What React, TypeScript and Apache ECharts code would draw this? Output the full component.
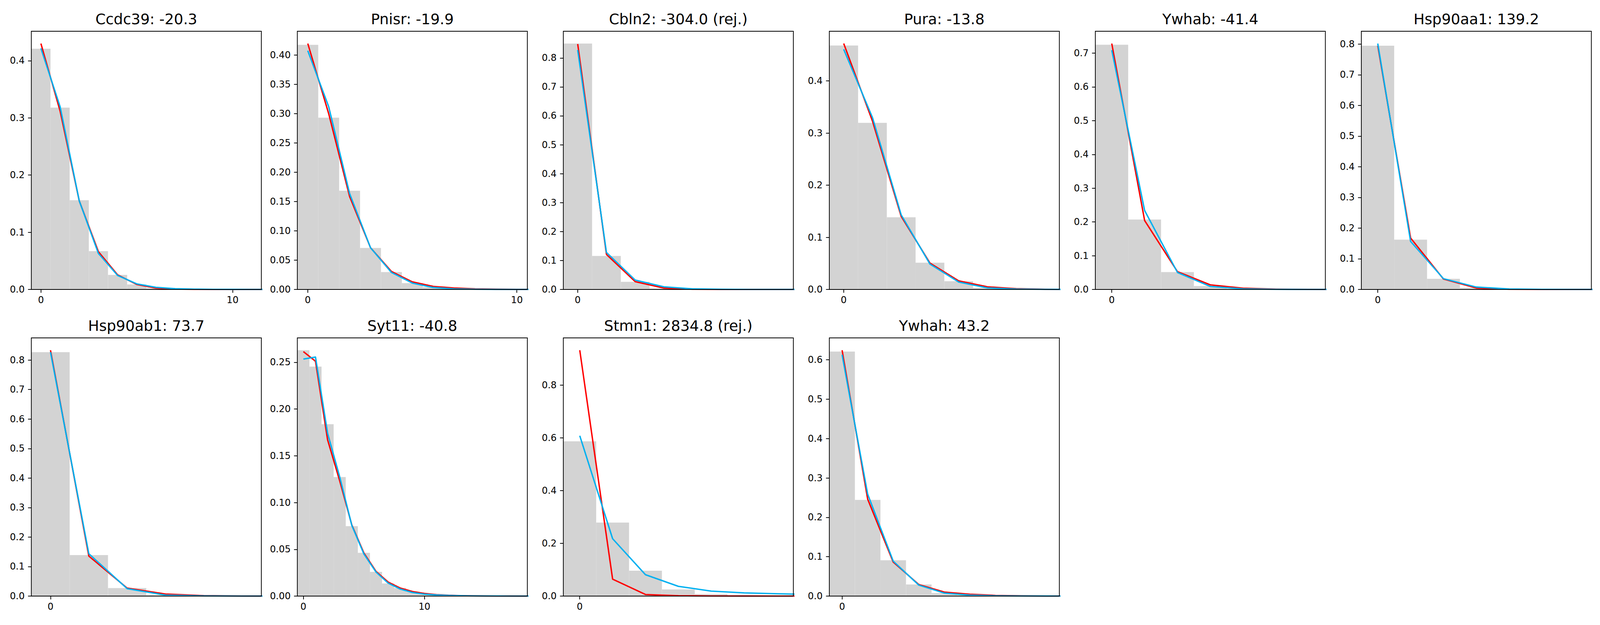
import React, { useEffect, useRef } from "react";
import * as echarts from "echarts";

// panel titles
const genes = ["Ccdc39", "Pnisr", "Cbln2", "Pura", "Ywhab", "Hsp90aa1", "Hsp90ab1", "Syt11", "Stmn1", "Ywhah"];
const scores = [-20.3, -19.9, -304.0, -13.8, -41.4, 139.2, 73.7, -40.8, 2834.8, 43.2];
const rejected = [false, false, true, false, false, false, false, false, true, false];

// observed frequency per count (bins centred on 0, 1, 2, ...)
const histHeights = [
  [0.421, 0.318, 0.156, 0.067, 0.0255, 0.0087, 0.002, 0.0006, 0.0002, 0.0001, 0, 0],
  [0.4177, 0.2933, 0.1685, 0.0709, 0.0297, 0.0109, 0.004, 0.001, 0.0003, 0.0001, 0],
  [0.8497, 0.1157, 0.0263, 0.0035, 0.0005, 0, 0, 0],
  [0.4679, 0.3195, 0.1384, 0.0514, 0.0157, 0.003, 0.0005, 0.0001],
  [0.7247, 0.2072, 0.0515, 0.01, 0.002, 0.0003, 0],
  [0.7947, 0.1623, 0.0346, 0.0052, 0.001, 0.0001, 0],
  [0.8266, 0.1389, 0.0271, 0.0034, 0.0004, 0],
  [0.2629, 0.2453, 0.1838, 0.1273, 0.0748, 0.0463, 0.0259, 0.0135, 0.0086, 0.0047, 0.0028, 0.0015, 0.0008, 0.0004, 0.0002, 0.0001, 0, 0, 0],
  [0.5868, 0.279, 0.0963, 0.025, 0.0076, 0.002, 0.0005],
  [0.6208, 0.2442, 0.0909, 0.0294, 0.0076, 0.0025, 0.001, 0.0003, 0.0001],
];

// red model
const redCurve = [
  [0.43, 0.312, 0.155, 0.066, 0.0255, 0.0087, 0.0024, 0.0007, 0.0002, 0.0001, 0, 0, 0],
  [0.4198, 0.3, 0.1586, 0.0713, 0.0307, 0.013, 0.0051, 0.0024, 0.001, 0.0004, 0.0002, 0.0001],
  [0.848, 0.121, 0.027, 0.0048, 0.0008, 0.0001, 0, 0, 0],
  [0.4717, 0.323, 0.14, 0.0506, 0.0165, 0.005, 0.0015, 0.0004, 0.0001],
  [0.7283, 0.2043, 0.0527, 0.0136, 0.0036, 0.0009, 0.0002, 0],
  [0.7947, 0.1675, 0.0339, 0.0046, 0.0006, 0.0001, 0, 0],
  [0.8333, 0.1355, 0.0271, 0.0068, 0.0015, 0.0003, 0.0001],
  [0.2614, 0.2511, 0.167, 0.1232, 0.0761, 0.0461, 0.0264, 0.015, 0.0086, 0.0049, 0.0028, 0.0016, 0.0009, 0.0005, 0.0003, 0.0002, 0.0001, 0.0001, 0, 0],
  [0.9325, 0.0644, 0.006, 0.0015, 0.0004, 0.0002, 0.0001, 0],
  [0.6244, 0.2462, 0.0863, 0.0294, 0.0102, 0.0046, 0.0018, 0.0007, 0.0003, 0.0001],
];

// blue model
const blueCurve = [
  [0.4216, 0.3197, 0.155, 0.063, 0.0245, 0.0098, 0.0038, 0.0014, 0.0005, 0.0002, 0.0001, 0, 0],
  [0.4075, 0.312, 0.1637, 0.0713, 0.029, 0.0109, 0.0034, 0.001, 0.0003, 0.0001, 0, 0],
  [0.8275, 0.128, 0.0325, 0.009, 0.002, 0.0005, 0.0001, 0, 0],
  [0.4606, 0.3298, 0.143, 0.0487, 0.0142, 0.003, 0.0008, 0.0002, 0],
  [0.7087, 0.2339, 0.0503, 0.0089, 0.0018, 0.0003, 0, 0],
  [0.8018, 0.1565, 0.0352, 0.0078, 0.0016, 0.0003, 0, 0],
  [0.8266, 0.1436, 0.0251, 0.0034, 0.0006, 0.0001, 0],
  [0.2534, 0.2556, 0.174, 0.1275, 0.0756, 0.045, 0.0257, 0.0139, 0.0075, 0.0039, 0.0021, 0.0012, 0.0007, 0.0004, 0.0002, 0.0001, 0.0001, 0, 0, 0],
  [0.608, 0.2176, 0.0811, 0.0371, 0.019, 0.0121, 0.0088, 0.0062],
  [0.6127, 0.2589, 0.0888, 0.0279, 0.0076, 0.0025, 0.0008, 0.0002, 0.0001, 0],
];

// y tick spacing per panel
const yTickSteps = [0.1, 0.05, 0.1, 0.1, 0.1, 0.1, 0.1, 0.05, 0.2, 0.1];
const xTickStep = 10;

// layout measured on a 4800 x 1600 canvas, scaled to the real container
const BASE_W = 4800;
const BASE_H = 1600;
const COLS = 6;
const PANEL_LEFT = 94;
const PANEL_STEP_X = 798;
const PANEL_TOPS = [80, 865];
const PANEL_W = 690;
const PANEL_H = 661;
const FONT = "DejaVu Sans";

const App: React.FC = () => {
  const chartRef = useRef<HTMLDivElement>(null);

  useEffect(() => {
    document.body.style.margin = "0";
    document.body.style.overflow = "hidden";
    if (!chartRef.current) return;
    const chart = echarts.init(chartRef.current, undefined, { renderer: "svg" });
    const sx = chart.getWidth() / BASE_W;
    const sy = chart.getHeight() / BASE_H;
    const s = Math.min(sx, sy);

    const grid: any[] = [];
    const xAxis: any[] = [];
    const yAxis: any[] = [];
    const series: any[] = [];
    const graphic: any[] = [];

    genes.forEach((gene, i) => {
      const left = (PANEL_LEFT + (i % COLS) * PANEL_STEP_X) * sx;
      const top = PANEL_TOPS[Math.floor(i / COLS)] * sy;
      const w = PANEL_W * sx;
      const h = PANEL_H * sy;
      const hist = histHeights[i];
      const n = hist.length;
      const xMax = n - 0.5;
      const shown = [...hist, ...redCurve[i].slice(0, n), ...blueCurve[i].slice(0, n)];
      const yMax = Math.max(...shown) * 1.05;
      const step = yTickSteps[i];
      const yTicks: number[] = [];
      for (let k = 0; k * step <= yMax + 1e-9; k++) yTicks.push(+(k * step).toFixed(4));
      const xTicks: number[] = [];
      for (let v = 0; v <= xMax; v += xTickStep) xTicks.push(v);

      grid.push({ left, top, width: w, height: h, containLabel: false });

      const tickStyle = { show: true, length: 10 * s, lineStyle: { color: "#000", width: 2.2 * s } };
      const labelStyle = { color: "#000", fontSize: 28 * s, fontFamily: FONT };

      xAxis.push({
        type: "value",
        gridIndex: i,
        min: -0.5,
        max: xMax,
        axisLine: { show: false, onZero: false },
        splitLine: { show: false },
        axisTick: { ...tickStyle, customValues: xTicks },
        axisLabel: { ...labelStyle, margin: 18 * s, customValues: xTicks, formatter: (v: number) => String(v) },
      });
      yAxis.push({
        type: "value",
        gridIndex: i,
        min: 0,
        max: yMax,
        axisLine: { show: false, onZero: false },
        splitLine: { show: false },
        axisTick: { ...tickStyle, customValues: yTicks },
        axisLabel: {
          ...labelStyle,
          margin: 20 * s,
          customValues: yTicks,
          formatter: (v: number) => v.toFixed(step < 0.1 ? 2 : 1),
        },
      });

      series.push({
        type: "custom",
        xAxisIndex: i,
        yAxisIndex: i,
        z: 1,
        encode: { x: 0, y: 1 },
        data: hist.map((v, k) => [k, v]),
        renderItem: (_params: any, api: any) => {
          const x = api.value(0);
          const hv = api.value(1);
          const p0 = api.coord([x - 0.5, hv]);
          const p1 = api.coord([x + 0.5, 0]);
          return {
            type: "rect",
            shape: { x: p0[0], y: p0[1], width: p1[0] - p0[0], height: p1[1] - p0[1] },
            style: { fill: "#d3d3d3" },
          };
        },
      });

      [
        { data: redCurve[i], color: "#ff0000", z: 3 },
        { data: blueCurve[i], color: "#00b0f0", z: 4 },
      ].forEach((c) => {
        series.push({
          type: "line",
          xAxisIndex: i,
          yAxisIndex: i,
          z: c.z,
          symbol: "none",
          clip: true,
          data: c.data.map((v, k) => [k, v]),
          lineStyle: { color: c.color, width: 4.2 * s, join: "round", cap: "butt" },
        });
      });

      const title = `${gene}: ${scores[i].toFixed(1)}${rejected[i] ? " (rej.)" : ""}`;
      graphic.push({
        type: "text",
        x: left + w / 2,
        y: top - 31 * sy,
        silent: true,
        style: {
          text: title,
          fill: "#000",
          font: `${44 * s}px '${FONT}'`,
          textAlign: "center",
          textVerticalAlign: "middle",
        },
      });
      graphic.push({
        type: "rect",
        silent: true,
        z: 100,
        shape: { x: left, y: top, width: w, height: h },
        style: { fill: "none", stroke: "#000", lineWidth: 2.2 * s },
      });
    });

    chart.setOption({
      animation: false,
      backgroundColor: "#fff",
      grid,
      xAxis,
      yAxis,
      series,
      graphic,
    });

    return () => {
      chart.dispose();
    };
  }, []);

  return <div ref={chartRef} style={{ width: "100vw", height: "100vh" }} />;
};

export default App;
